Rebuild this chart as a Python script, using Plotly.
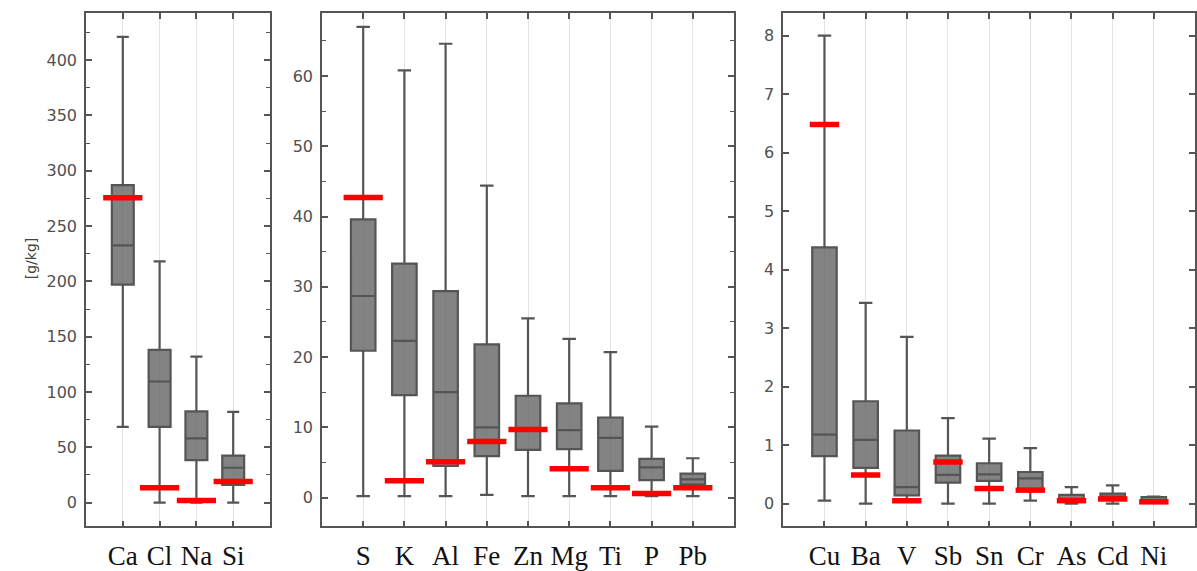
import plotly.graph_objects as go

# ---- data ----
cats_a = ["Ca", "Cl", "Na", "Si"]
upper_a = [421, 218, 132, 82]
q3_a = [287, 138, 82.5, 42.5]
med_a = [232.5, 109.5, 58, 31.5]
q1_a = [197, 68.5, 38.5, 16]
lower_a = [68.5, 0, 0, 0]
ref_a = [275.5, 13.5, 2, 19]

cats_b = ["S", "K", "Al", "Fe", "Zn", "Mg", "Ti", "P", "Pb"]
upper_b = [67, 60.8, 64.6, 44.4, 25.5, 22.6, 20.7, 10.1, 5.6]
q3_b = [39.6, 33.3, 29.4, 21.8, 14.5, 13.4, 11.4, 5.5, 3.4]
med_b = [28.7, 22.3, 15.0, 10.0, 9.8, 9.6, 8.5, 4.3, 2.6]
q1_b = [20.9, 14.6, 4.5, 5.9, 6.8, 6.9, 3.8, 2.5, 1.9]
lower_b = [0.2, 0.2, 0.2, 0.4, 0.2, 0.2, 0.2, 0.2, 0.2]
ref_b = [42.7, 2.4, 5.1, 8.0, 9.7, 4.1, 1.4, 0.6, 1.4]

cats_c = ["Cu", "Ba", "V", "Sb", "Sn", "Cr", "As", "Cd", "Ni"]
upper_c = [8.0, 3.43, 2.85, 1.46, 1.11, 0.95, 0.28, 0.31, 0.12]
q3_c = [4.38, 1.75, 1.25, 0.82, 0.69, 0.54, 0.15, 0.17, 0.11]
med_c = [1.18, 1.09, 0.28, 0.49, 0.50, 0.43, 0.08, 0.12, 0.06]
q1_c = [0.81, 0.61, 0.14, 0.36, 0.39, 0.24, 0.03, 0.06, 0.03]
lower_c = [0.05, 0.0, 0.05, 0.0, 0.0, 0.05, 0.0, 0.0, 0.01]
ref_c = [6.48, 0.49, 0.05, 0.71, 0.26, 0.23, 0.05, 0.08, 0.03]

y_ticks_a = [0, 50, 100, 150, 200, 250, 300, 350, 400]
y_ticks_b = [0, 10, 20, 30, 40, 50, 60]
y_ticks_c = [0, 1, 2, 3, 4, 5, 6, 7, 8]

BOX_FILL = "rgba(100,100,100,0.80)"
BOX_LINE = "#555555"
FRAME = "#555555"
TICKFONT = dict(family="DejaVu Sans", size=16, color="#505050")
CATFONT = dict(family="Liberation Serif", size=27, color="#111111")

fig = go.Figure()

panels = [
    (cats_a, upper_a, q3_a, med_a, q1_a, lower_a, ref_a, "x", "y", 28),
    (cats_b, upper_b, q3_b, med_b, q1_b, lower_b, ref_b, "x2", "y2", 28),
    (cats_c, upper_c, q3_c, med_c, q1_c, lower_c, ref_c, "x3", "y3", 21),
]

for cats, up, q3, med, q1, lo, ref, xa, ya, msize in panels:
    fig.add_trace(go.Box(
        x=cats, q1=q1, median=med, q3=q3, lowerfence=lo, upperfence=up,
        boxpoints=False, fillcolor=BOX_FILL,
        line=dict(color=BOX_LINE, width=2.2), whiskerwidth=0.55,
        xaxis=xa, yaxis=ya, showlegend=False, hoverinfo="skip",
    ))
    fig.add_trace(go.Scatter(
        x=cats, y=ref, mode="markers",
        marker=dict(symbol="line-ew", size=msize,
                    line=dict(color="#ff0000", width=5.5)),
        xaxis=xa, yaxis=ya, showlegend=False, hoverinfo="skip",
    ))

H = 571.0
W = 1197.0
ydom = [1 - 532 / H, 1 - 13 / H]


def xaxis(domain, n):
    return dict(
        domain=domain, range=[-1, n], type="category",
        showline=True, linecolor=FRAME, linewidth=1.6, mirror="ticks",
        ticks="inside", ticklen=6, tickcolor=FRAME, tickwidth=1.5,
        showgrid=True, gridcolor="#e2e2e2", gridwidth=1.2,
        tickfont=CATFONT, ticklabelstandoff=4, zeroline=False, fixedrange=True,
    )


def yaxis(domain, rng, ticks, minor_dtick, anchor):
    d = dict(
        domain=domain, range=rng, tickvals=ticks,
        showline=True, linecolor=FRAME, linewidth=1.6, mirror="ticks",
        ticks="inside", ticklen=6, tickcolor=FRAME, tickwidth=1.5,
        showgrid=False, zeroline=False, tickfont=TICKFONT, anchor=anchor,
        ticklabelstandoff=4, fixedrange=True,
    )
    if minor_dtick:
        d["minor"] = dict(dtick=minor_dtick, ticks="inside", ticklen=4,
                          tickcolor=FRAME, tickwidth=1.2, showgrid=False)
    return d


fig.update_layout(
    width=1197, height=571,
    margin=dict(l=0, r=0, t=0, b=0),
    paper_bgcolor="white", plot_bgcolor="white",
    boxgap=0.15,
    xaxis=xaxis([86 / W, 270 / W], 4) | dict(anchor="y"),
    yaxis=yaxis(ydom, [-21.5, 442.7], y_ticks_a, 25, "x"),
    xaxis2=xaxis([322 / W, 734 / W], 9) | dict(anchor="y2"),
    yaxis2=yaxis(ydom, [-4.1, 69.0], y_ticks_b, 5, "x2"),
    xaxis3=xaxis([783.3 / W, 1195 / W], 9) | dict(anchor="y3"),
    yaxis3=yaxis(ydom, [-0.39, 8.39], y_ticks_c, None, "x3"),
)

fig.add_annotation(
    text="[g/kg]", textangle=-90, xref="paper", yref="paper",
    x=21 / W, y=1 - 261 / H, showarrow=False,
    font=dict(family="DejaVu Sans", size=14, color="#444444"),
)

fig.write_html("out.html",
               config={"displayModeBar": False},
               post_script="document.body.style.margin='0';document.body.style.overflow='hidden';")
